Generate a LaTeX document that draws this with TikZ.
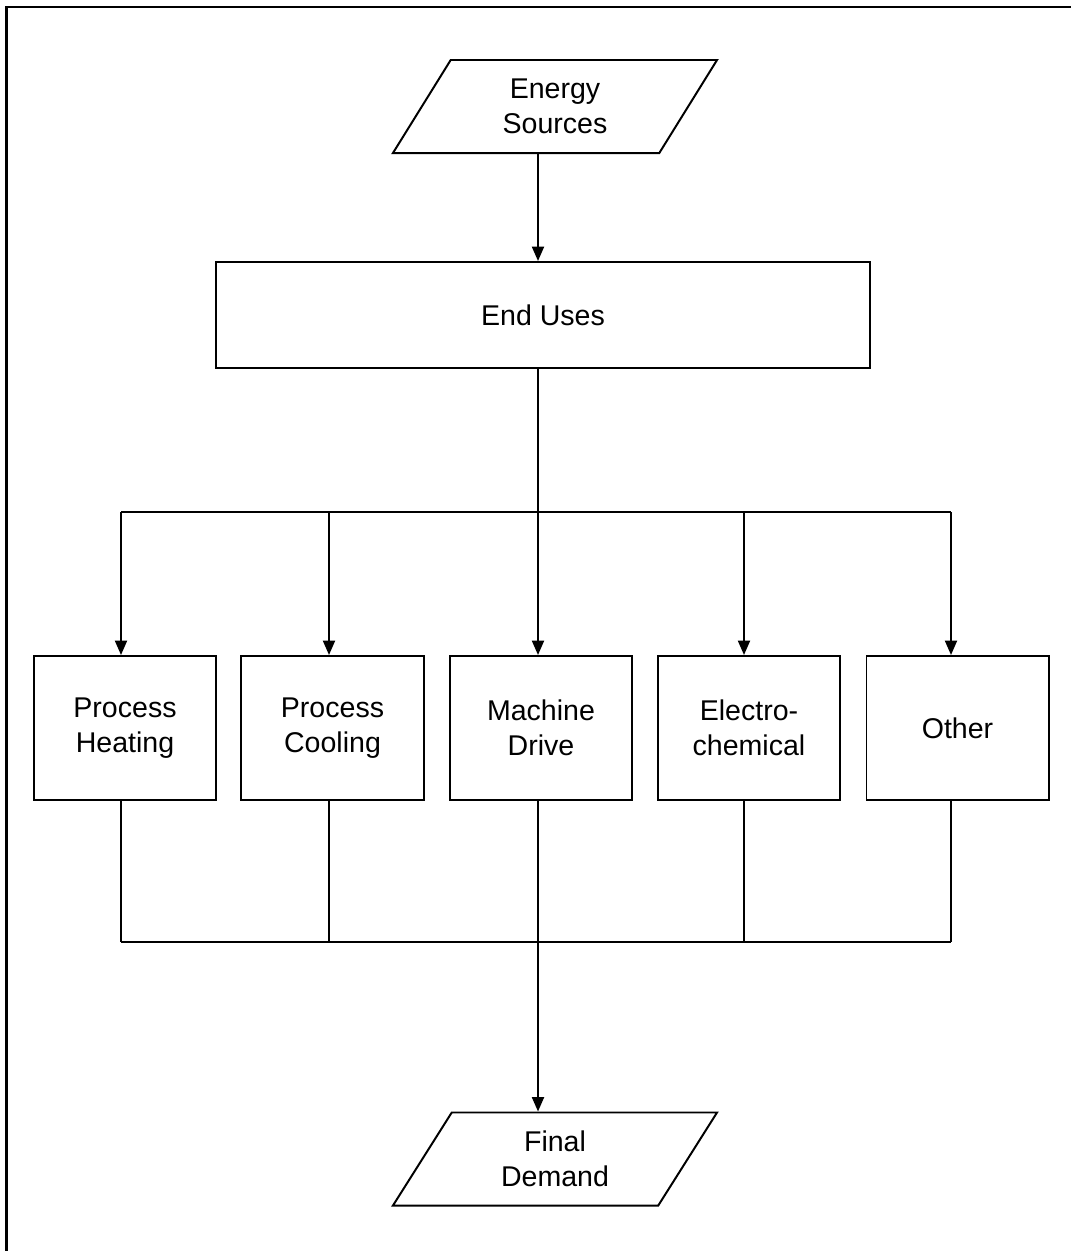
\documentclass[tikz,border=0pt]{standalone}
\usepackage{fontspec}
\setmainfont{Liberation Sans}
\usepackage{tikz}
\usetikzlibrary{shapes.geometric,arrows.meta}

\tikzset{
  io/.style={shape=trapezium,draw=black,line width=1.4pt,trapezium left angle=45,trapezium right angle=135,
    trapezium stretches body,minimum width=8.1cm,minimum height=2.325cm,inner sep=1pt,align=center},
  box/.style={shape=rectangle,draw=black,line width=1.4pt,minimum width=4.55cm,minimum height=3.6cm,align=center},
  arr/.style={-{Triangle[length=0.36cm,width=0.3cm]},line width=1.4pt},
  ln/.style={line width=1.4pt}
}

\begin{document}
\begin{tikzpicture}[x=0.025cm,y=-0.025cm,font=\fontsize{20.3}{24.9}\selectfont]
        \useasboundingbox (0,0) rectangle (1071,1251);
        \draw[line width=1.6pt] (6.5,1251) -- (6.5,7) -- (1071,7);
        \node[io] (ES) at (555,106.5){Energy\\Sources};
        \node[box,minimum width=16.35cm,minimum height=2.65cm] (EU) at (543,315){End Uses};
        \node[box] (PH) at (125,728){Process\\Heating};
        \node[box] (PC) at (332.5,728){Process\\Cooling};
        \node[box] (MD) at (541,728){Machine\\Drive};
        \node[box] (EC) at (749,728){Electro-\\chemical};
        \node[box] (OT) at (957.5,728){Other};
        \node[io] (FD) at (555,1159){Final\\Demand};
        % bus points
        \coordinate (T1) at (121,512);
        \coordinate (T2) at (329,512);
        \coordinate (T3) at (538,512);
        \coordinate (T4) at (744,512);
        \coordinate (T5) at (951,512);
        \coordinate (B1) at (121,942);
        \coordinate (B2) at (329,942);
        \coordinate (B3) at (538,942);
        \coordinate (B4) at (744,942);
        \coordinate (B5) at (951,942);
        \path [arr](ES.south -| T3) edge (T3 |- EU.north);
        \path [ln](T3 |- EU.south) edge (T3);
        \path [ln](T1) edge (T5);
        \path [arr](T1) edge (T1 |- PH.north);
        \path [arr](T2) edge (T2 |- PC.north);
        \path [arr](T3) edge (T3 |- MD.north);
        \path [arr](T4) edge (T4 |- EC.north);
        \path [arr](T5) edge (T5 |- OT.north);
        \path [ln](B1 |- PH.south) edge (B1);
        \path [ln](B2 |- PC.south) edge (B2);
        \path [ln](B3 |- MD.south) edge (B3);
        \path [ln](B4 |- EC.south) edge (B4);
        \path [ln](B5 |- OT.south) edge (B5);
        \path [ln](B1) edge (B5);
        \path [arr](B3) edge (B3 |- FD.north);
    \end{tikzpicture}
\end{document}
